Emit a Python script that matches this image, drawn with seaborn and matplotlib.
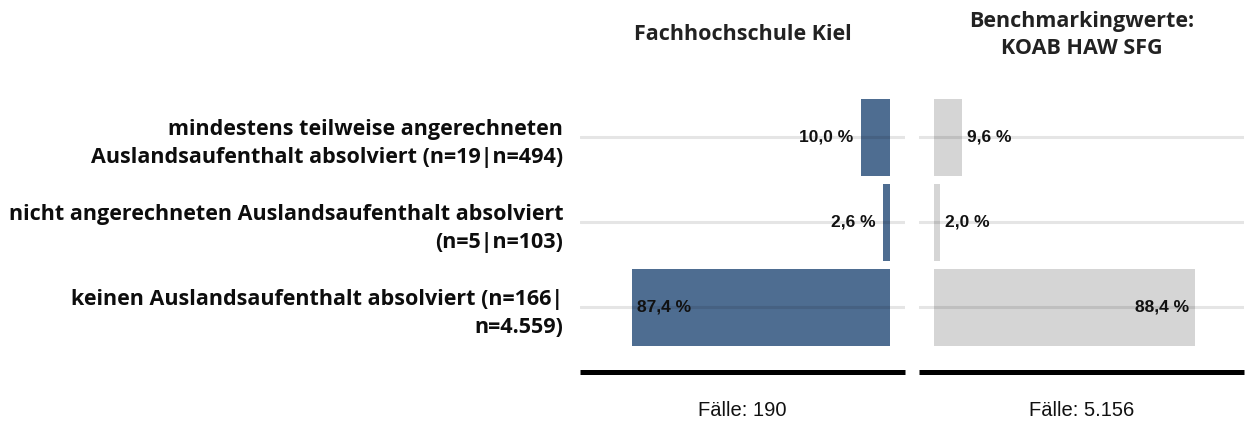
import matplotlib
matplotlib.use("Agg")
import matplotlib.pyplot as plt
import seaborn as sns
import pandas as pd

# ---- data ----
categories = [
    "mindestens teilweise angerechneten\nAuslandsaufenthalt absolviert (n=19|n=494)",
    "nicht angerechneten Auslandsaufenthalt absolviert\n(n=5|n=103)",
    "keinen Auslandsaufenthalt absolviert (n=166|\nn=4.559)",
]
fh_kiel = [10.0, 2.6, 87.4]
benchmark = [9.6, 2.0, 88.4]
panel_titles = ["Fachhochschule Kiel", "Benchmarkingwerte:\nKOAB HAW SFG"]
case_labels = ["Fälle: 190", "Fälle: 5.156"]

BLUE = "#4e6d91"
GRAY = "#d5d5d5"

sns.set_theme(style="white")
plt.rcParams['font.family'] = ['Open Sans', 'DejaVu Sans']

W, H = 1253, 423
fig = plt.figure(figsize=(W / 100, H / 100), dpi=100)


def frac(x0, x1, ytop, ybot):
    return [x0 / W, 1 - ybot / H, (x1 - x0) / W, (ybot - ytop) / H]


axL = fig.add_axes(frac(580, 905, 73.75, 371.5))
axR = fig.add_axes(frac(919, 1244, 73.75, 371.5))

df = pd.DataFrame({"cat": categories, "fh": fh_kiel, "bm": benchmark})

sns.barplot(data=df, x="fh", y="cat", orient="h", color=BLUE, saturation=1,
            width=0.91, linewidth=0, ax=axL)
sns.barplot(data=df, x="bm", y="cat", orient="h", color=GRAY, saturation=1,
            width=0.91, linewidth=0, ax=axR)

axL.set_xlim(105, -5)
axR.set_xlim(-5, 105)

label_font = dict(family=['Liberation Sans', 'DejaVu Sans'], fontsize=12.5,
                  fontweight='bold', color='#111111')

for ax, vals, side in [(axL, fh_kiel, 'L'), (axR, benchmark, 'R')]:
    ax.set_ylim(2.753, -0.75)
    for i in range(len(categories)):
        ax.axhline(i, color='black', alpha=0.1, lw=2.2, zorder=3)
    for s in ['top', 'left', 'right']:
        ax.spines[s].set_visible(False)
    ax.spines['bottom'].set_color('black')
    ax.spines['bottom'].set_linewidth(3.6)
    ax.spines['bottom'].set_capstyle('butt')
    ax.set_xticks([])
    ax.set_xlabel("")
    ax.set_ylabel("")
    ax.tick_params(axis='y', length=0)
    for i, v in enumerate(vals):
        txt = f"{v:.1f} %".replace('.', ',')
        big = v > 50
        if side == 'L':
            ha, dx = ('left', 3.8) if big else ('right', -5)
        else:
            ha, dx = ('right', -4.5) if big else ('left', 3.8)
        ax.annotate(txt, xy=(v, i), xytext=(dx, 0), textcoords='offset points',
                    ha=ha, va='center', zorder=4, **label_font)

axR.set_yticklabels([])
axL.tick_params(axis='y', pad=12)
for t in axL.get_yticklabels():
    t.set_fontsize(15.5)
    t.set_fontweight('bold')
    t.set_color('#0d0d0d')
    t.set_ha('right')
    t.set_multialignment('right')
    t.set_linespacing(1.45)

# titles
for cx, title in zip([742.5, 1081.5], panel_titles):
    fig.text(cx / W, 1 - 35 / H, title, ha='center', va='center',
             fontsize=15.5, fontweight='bold', color='#222222', linespacing=1.35)

for cx, lab in zip([742.5, 1081.5], case_labels):
    fig.text(cx / W, 1 - 410 / H, lab, ha='center', va='center',
             fontsize=14.5, family=['Liberation Sans', 'DejaVu Sans'], color='#111111')

fig.savefig("out.png", dpi=100)
